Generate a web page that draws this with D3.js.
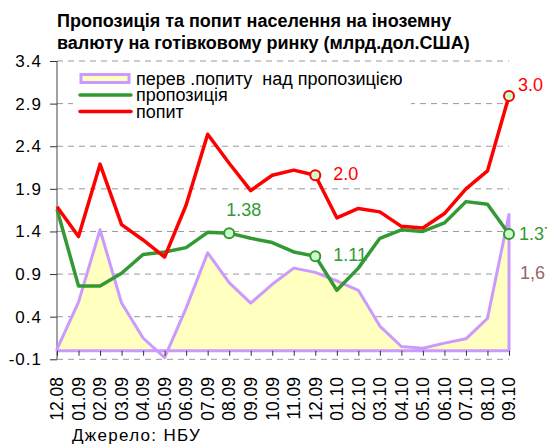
<!DOCTYPE html>
<html>
<head>
<meta charset="utf-8">
<script src="https://cdn.jsdelivr.net/npm/d3@7"></script>
<style>
    body { margin: 0; background: #fff; }
    svg { font-family: Arial, "Liberation Sans", sans-serif; }
</style>
</head>
<body>
<script>
"use strict";

// months on the category axis
const months = ["12.08", "01.09", "02.09", "03.09", "04.09", "05.09", "06.09", "07.09",
    "08.09", "09.09", "10.09", "11.09", "12.09", "01.10", "02.10", "03.10",
    "04.10", "05.10", "06.10", "07.10", "08.10", "09.10"]

// попит (demand)
const demand = [1.69, 1.34, 2.19, 1.48, 1.30, 1.10, 1.71, 2.54, 2.20, 1.88, 2.06,
    2.12, 2.06, 1.56, 1.67, 1.63, 1.46, 1.44, 1.61, 1.90, 2.11, 2.99]

// пропозиція (supply)
const supply = [1.66, 0.76, 0.76, 0.91, 1.13, 1.16, 1.21, 1.39, 1.38, 1.32, 1.27,
    1.16, 1.11, 0.71, 0.97, 1.32, 1.42, 1.40, 1.50, 1.75, 1.72, 1.37]

// перевищення попиту над пропозицією
const excess = [0.02, 0.57, 1.42, 0.56, 0.15, -0.08, 0.50, 1.15, 0.80, 0.56, 0.78,
    0.97, 0.92, 0.82, 0.71, 0.29, 0.05, 0.03, 0.09, 0.14, 0.38, 1.60]

const yTicks = [-0.1, 0.4, 0.9, 1.4, 1.9, 2.4, 2.9, 3.4]

// labelled points: series, index, text
const pointLabels = [
    { series: "supply", i: 8, text: "1.38", color: "#339933", dx: -3, dy: -17 },
    { series: "supply", i: 12, text: "1.11", color: "#339933", dx: 18, dy: 5 },
    { series: "supply", i: 21, text: "1.37", color: "#339933", dx: 10, dy: 6 },
    { series: "demand", i: 12, text: "2.0", color: "#ff0000", dx: 18, dy: 5 },
    { series: "demand", i: 21, text: "3.0", color: "#ff0000", dx: 9, dy: -5 },
    { series: "excess", i: 21, text: "1,6", color: "#996666", dx: 11, dy: 0, fixedY: 279 }
]

const m = { left: 57, right: 509, top: 61, bottom: 359.3 }

const svg = d3.select("body").append("svg")
    .attr("width", 547)
    .attr("height", 445)

const x = d3.scalePoint()
    .domain(months)
    .range([m.left, m.right])

const y = d3.scaleLinear()
    .domain([-0.1, 3.4])
    .range([m.bottom, m.top])

// title
const title = svg.append("text")
    .attr("x", 57)
    .attr("y", 27)
    .style("font-size", "18px")
    .style("font-weight", "bold")
title.append("tspan").attr("x", 57).text("Пропозиція та попит населення на іноземну")
title.append("tspan").attr("x", 57).attr("dy", 21.5).text("валюту на готівковому ринку (млрд.дол.США)")

// dashed grid
svg.append("g")
    .selectAll("line")
    .data(yTicks)
    .enter()
    .append("line")
        .attr("x1", m.left)
        .attr("x2", m.right)
        .attr("y1", d => y(d))
        .attr("y2", d => y(d))
        .attr("stroke", "#999")
        .attr("stroke-dasharray", "6,5")

// y axis
const yAxis = d3.axisLeft(y)
    .tickValues(yTicks)
    .tickFormat(d => d3.format(".1f")(d).replace("−", "-"))
    .tickSize(7)
    .tickPadding(8)

const gy = svg.append("g")
    .attr("transform", "translate(" + m.left + ",0)")
    .call(yAxis)
gy.select(".domain").attr("stroke", "#444").attr("d", "M0," + m.top + "V" + m.bottom)
gy.selectAll("line").attr("stroke", "#333")
gy.selectAll("text")
    .style("font-size", "17px")
    .style("letter-spacing", "1px")
    .attr("fill", "#000")
    .attr("font-family", null)

// legend background (hides grid behind it)
svg.append("rect")
    .attr("x", 73).attr("y", 66)
    .attr("width", 338).attr("height", 56)
    .attr("fill", "#fff")

// area of excess demand
const area = d3.area()
    .x((d, i) => x(months[i]))
    .y0(y(0))
    .y1(d => y(d))

svg.append("path")
    .datum(excess)
    .attr("d", area)
    .attr("fill", "#ffffc0")
    .attr("stroke", "#cc99ff")
    .attr("stroke-width", 3)
    .attr("stroke-linejoin", "round")

// x axis ticks along zero line
const xAxis = d3.axisBottom(x).tickSize(5).tickFormat("")
const gx = svg.append("g")
    .attr("transform", "translate(0," + y(0) + ")")
    .call(xAxis)
gx.select(".domain").remove()
gx.selectAll("line").attr("stroke", "#333")

// x labels rotated
svg.append("g")
    .selectAll("text")
    .data(months)
    .enter()
    .append("text")
        .attr("transform", d => "translate(" + (x(d) + 6.3) + ",377)rotate(-90)")
        .attr("text-anchor", "end")
        .style("font-size", "17.5px")
        .text(d => d)

const line = d3.line()
    .x((d, i) => x(months[i]))
    .y(d => y(d))

svg.append("path")
    .datum(supply)
    .attr("d", line)
    .attr("fill", "none")
    .attr("stroke", "#339933")
    .attr("stroke-width", 3.5)
    .attr("stroke-linejoin", "round")

svg.append("path")
    .datum(demand)
    .attr("d", line)
    .attr("fill", "none")
    .attr("stroke", "#ff0000")
    .attr("stroke-width", 3.5)
    .attr("stroke-linejoin", "round")

const seriesData = { supply: supply, demand: demand, excess: excess }
const seriesColor = { supply: "#339933", demand: "#ff0000" }

// markers
svg.append("g")
    .selectAll("circle")
    .data(pointLabels.filter(d => d.series != "excess"))
    .enter()
    .append("circle")
        .attr("cx", d => x(months[d.i]))
        .attr("cy", d => y(seriesData[d.series][d.i]))
        .attr("r", 5)
        .attr("fill", "#ccffcc")
        .attr("stroke", d => seriesColor[d.series])
        .attr("stroke-width", 2)

// point labels
svg.append("g")
    .selectAll("text")
    .data(pointLabels)
    .enter()
    .append("text")
        .attr("x", d => x(months[d.i]) + d.dx)
        .attr("y", d => d.fixedY ? d.fixedY : y(seriesData[d.series][d.i]) + d.dy)
        .attr("fill", d => d.color)
        .style("font-size", "18px")
        .text(d => d.text)

// legend
const legend = [
    { name: "перев .попиту  над пропозицією", type: "area" },
    { name: "пропозиція", type: "line", color: "#339933" },
    { name: "попит", type: "line", color: "#ff0000" }
]

const lg = svg.append("g")
legend.forEach(function(d, i) {
    const cy = 78.5 + i * 16.5
    if (d.type == "area") {
        lg.append("rect")
            .attr("x", 81).attr("y", cy - 4)
            .attr("width", 48).attr("height", 8)
            .attr("fill", "#ffffc0")
            .attr("stroke", "#cc99ff")
            .attr("stroke-width", 3)
    } else {
        lg.append("line")
            .attr("x1", 80).attr("x2", 131)
            .attr("y1", cy).attr("y2", cy)
            .attr("stroke", d.color)
            .attr("stroke-width", 3.5)
            .attr("stroke-linecap", "round")
    }
    lg.append("text")
        .attr("x", 136)
        .attr("y", cy + 6)
        .style("font-size", "18px")
        .style("white-space", "pre")
        .text(d.name)
})

// source
svg.append("text")
    .attr("x", 72)
    .attr("y", 440.5)
    .style("font-size", "17px")
    .style("letter-spacing", "1.3px")
    .text("Джерело: НБУ")
</script>
</body>
</html>
